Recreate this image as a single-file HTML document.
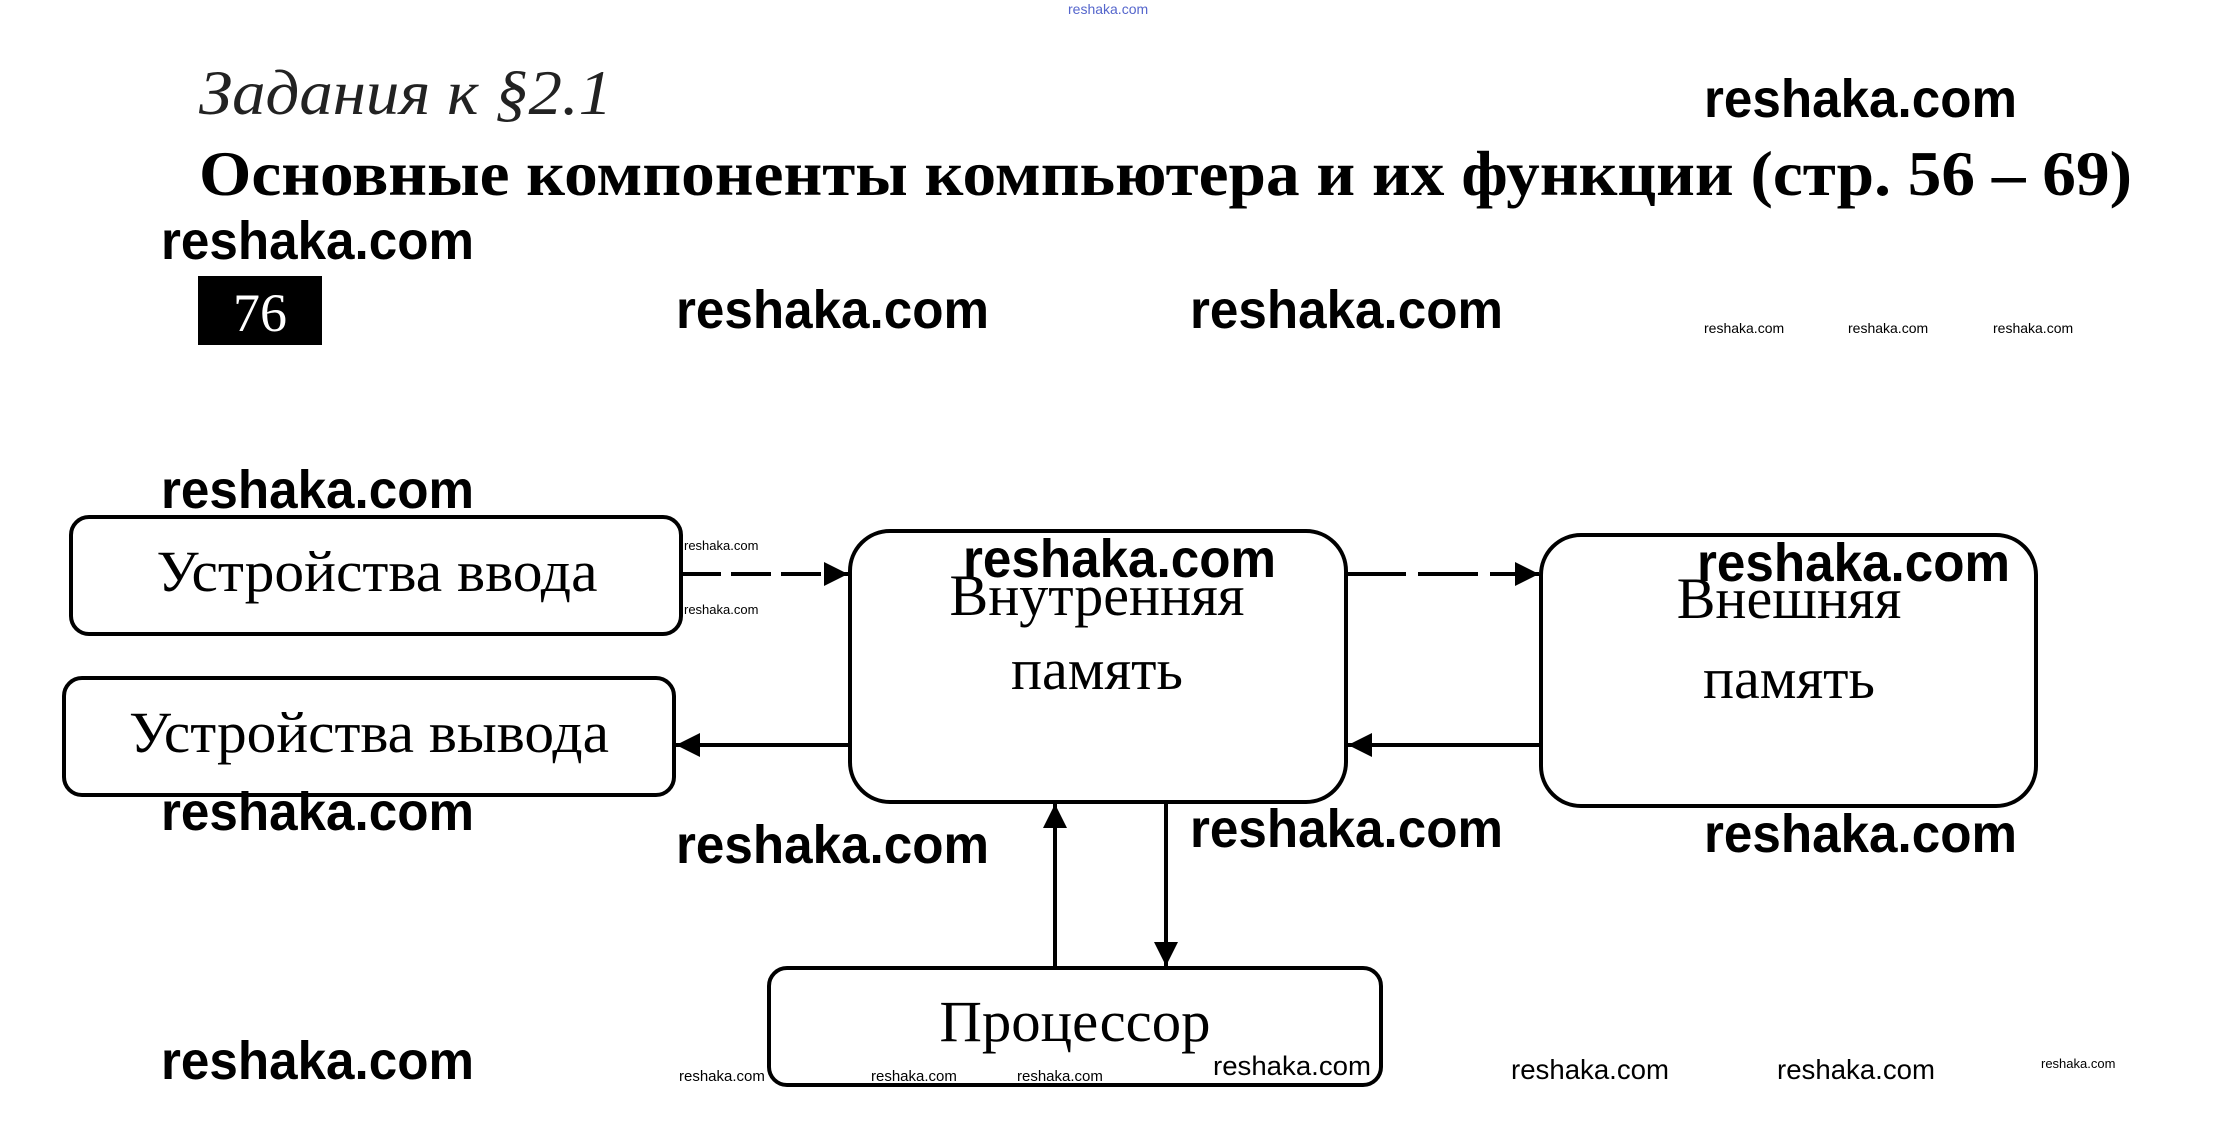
<!DOCTYPE html>
<html><head><meta charset="utf-8"><style>html,body{margin:0;padding:0;background:#fff}svg{display:block}</style></head>
<body>
<svg width="2222" height="1131" viewBox="0 0 2222 1131" xmlns="http://www.w3.org/2000/svg">
<defs>
<marker id="a" viewBox="0 0 10 10" refX="10" refY="5" markerWidth="26" markerHeight="24" orient="auto" markerUnits="userSpaceOnUse"><path d="M0,0 L10,5 L0,10 z" fill="#000"/></marker>
</defs>
<rect width="2222" height="1131" fill="#fff"/>
<text x="1068" y="14" font-family="Liberation Sans, sans-serif" font-size="14" fill="#5566cc">reshaka.com</text>
<text x="199" y="114" font-family="Liberation Serif, serif" font-style="italic" font-size="64" textLength="413" lengthAdjust="spacingAndGlyphs" fill="#222">Задания к §2.1</text>
<text x="199" y="195" font-family="Liberation Serif, serif" font-weight="bold" font-size="64" textLength="1933" lengthAdjust="spacingAndGlyphs" fill="#000">Основные компоненты компьютера и их функции (стр. 56 – 69)</text>
<rect x="198" y="276" width="124" height="69" fill="#000"/>
<text x="260" y="331" text-anchor="middle" font-family="Liberation Serif, serif" font-size="54" fill="#fff">76</text>

<g fill="none" stroke="#000" stroke-width="4">
<rect x="71" y="517" width="610" height="117" rx="18"/>
<rect x="64" y="678" width="610" height="117" rx="18"/>
<rect x="850" y="531" width="496" height="271" rx="40"/>
<rect x="1541" y="535" width="495" height="271" rx="40"/>
<rect x="769" y="968" width="612" height="117" rx="18"/>
</g>
<g stroke="#000" stroke-width="4" marker-end="url(#a)">
<line x1="681" y1="574" x2="848" y2="574" stroke-dasharray="40,10"/>
<line x1="1346" y1="574" x2="1539" y2="574" stroke-dasharray="60,12"/>
<line x1="1541" y1="745" x2="1348" y2="745"/>
<line x1="850" y1="745" x2="676" y2="745"/>
<line x1="1055" y1="968" x2="1055" y2="804"/>
<line x1="1166" y1="802" x2="1166" y2="966"/>
</g>

<g font-family="Liberation Serif, serif" font-size="58" fill="#000" text-anchor="middle">
<text x="377" y="591" textLength="441" lengthAdjust="spacingAndGlyphs">Устройства ввода</text>
<text x="369" y="752" textLength="480" lengthAdjust="spacingAndGlyphs">Устройства вывода</text>
<text x="1097" y="615">Внутренняя</text>
<text x="1097" y="689">память</text>
<text x="1789" y="618">Внешняя</text>
<text x="1789" y="698">память</text>
<text x="1075" y="1041" textLength="271" lengthAdjust="spacingAndGlyphs">Процессор</text>
</g>

<g font-family="Liberation Sans, sans-serif" font-weight="bold" font-size="54" fill="#000">
<text x="161" y="259" textLength="313" lengthAdjust="spacingAndGlyphs">reshaka.com</text>
<text x="1704" y="117" textLength="313" lengthAdjust="spacingAndGlyphs">reshaka.com</text>
<text x="676" y="328" textLength="313" lengthAdjust="spacingAndGlyphs">reshaka.com</text>
<text x="1190" y="328" textLength="313" lengthAdjust="spacingAndGlyphs">reshaka.com</text>
<text x="161" y="508" textLength="313" lengthAdjust="spacingAndGlyphs">reshaka.com</text>
<text x="963" y="577" textLength="313" lengthAdjust="spacingAndGlyphs">reshaka.com</text>
<text x="1697" y="581" textLength="313" lengthAdjust="spacingAndGlyphs">reshaka.com</text>
<text x="161" y="830" textLength="313" lengthAdjust="spacingAndGlyphs">reshaka.com</text>
<text x="676" y="863" textLength="313" lengthAdjust="spacingAndGlyphs">reshaka.com</text>
<text x="1190" y="847" textLength="313" lengthAdjust="spacingAndGlyphs">reshaka.com</text>
<text x="1704" y="852" textLength="313" lengthAdjust="spacingAndGlyphs">reshaka.com</text>
<text x="161" y="1079" textLength="313" lengthAdjust="spacingAndGlyphs">reshaka.com</text>
</g>
<g font-family="Liberation Sans, sans-serif" fill="#000">
<text x="1704" y="333" font-size="14">reshaka.com</text>
<text x="1848" y="333" font-size="14">reshaka.com</text>
<text x="1993" y="333" font-size="14">reshaka.com</text>
<text x="684" y="550" font-size="13">reshaka.com</text>
<text x="684" y="614" font-size="13">reshaka.com</text>
<text x="679" y="1081" font-size="15">reshaka.com</text>
<text x="871" y="1081" font-size="15">reshaka.com</text>
<text x="1017" y="1081" font-size="15">reshaka.com</text>
<text x="1213" y="1075" font-size="27" textLength="158" lengthAdjust="spacingAndGlyphs">reshaka.com</text>
<text x="1511" y="1079" font-size="28" textLength="158" lengthAdjust="spacingAndGlyphs">reshaka.com</text>
<text x="1777" y="1079" font-size="28" textLength="158" lengthAdjust="spacingAndGlyphs">reshaka.com</text>
<text x="2041" y="1068" font-size="13">reshaka.com</text>
</g>
</svg>
</body></html>
